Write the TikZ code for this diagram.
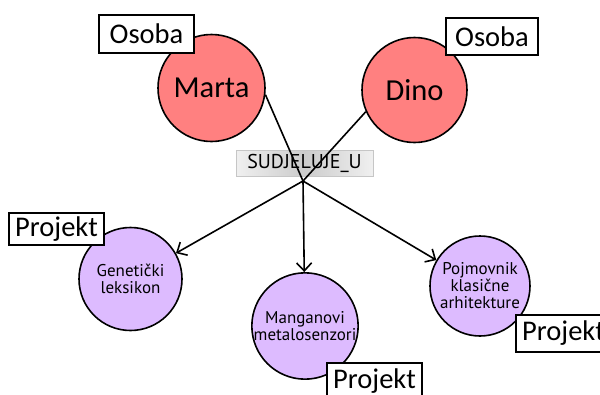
\documentclass[tikz,border=0pt]{standalone}
\usepackage{fontspec}
\setmainfont{PT Sans}
\newfontfamily\bigfont{Carlito}
\usetikzlibrary{arrows.meta}
\definecolor{personfill}{RGB}{255,128,128}
\definecolor{projfill}{RGB}{221,187,255}
\tikzset{
  person/.style={circle,draw=black,line width=1.6pt,fill=personfill,inner sep=0pt,
    font=\bigfont\fontsize{30.5}{35}\selectfont},
  project/.style={circle,draw=black,line width=1.6pt,fill=projfill,inner sep=0pt,
    align=center,font=\fontsize{17}{17}\selectfont},
  tag/.style={rectangle,draw=black,line width=1.4pt,fill=white,inner sep=0pt,
    font=\bigfont\fontsize{28.5}{32}\selectfont},
  rel/.style={rectangle,draw=gray!45,line width=0.8pt,inner sep=0pt,
    left color=gray!12,right color=gray!12,middle color=gray!40,
    font=\fontsize{20}{22}\selectfont},
  edge/.style={line width=1.6pt,black},
  arr/.style={edge,-{Straight Barb[length=8pt,width=15pt,line width=1.6pt]}}
}
\begin{document}
\begin{tikzpicture}[x=1pt,y=-1pt]
\useasboundingbox (0,0) rectangle (600,394);
\fill[white] (0,0) rectangle (600,394);
% relationship label
\node[rel,minimum width=137pt,minimum height=26pt] (rel) at (304.5,163) {SUDJELUJE\_U};
\coordinate (hub) at (303,181);
% circles
\node[person,minimum size=107pt] (marta) at (211.5,88) {Marta};
\node[person,minimum size=105pt] (dino) at (414.5,90) {Dino};
\node[project,minimum size=103pt] (gen) at (130.5,279) {Genetički\\leksikon};
\node[project,minimum size=104pt] (man) at (305,326) {Manganovi\\metalosenzori};
\node[project,minimum size=100pt] (poj) at (480,286) {Pojmovnik\\klasične\\arhitekture};
% connectors
\draw[edge] (marta.-7) -- (hub);
\draw[edge] (dino.204) -- (hub);
\draw[arr] (hub) -- (gen);
\draw[arr] (hub) -- (man);
\draw[arr] (hub) -- (poj);
% tags
\node[tag,minimum width=95pt,minimum height=38pt] (t1) at (146.5,34) {Osoba};
\node[tag,minimum width=92pt,minimum height=37pt] (t2) at (492,36.5) {Osoba};
\node[tag,minimum width=95pt,minimum height=32pt] (t3) at (56.5,229) {Projekt};
\node[tag,minimum width=95pt,minimum height=36pt] (t4) at (374.5,381) {Projekt};
\node[tag,minimum width=95pt,minimum height=37pt] (t5) at (563.5,333.5) {Projekt};
\end{tikzpicture}
\end{document}
